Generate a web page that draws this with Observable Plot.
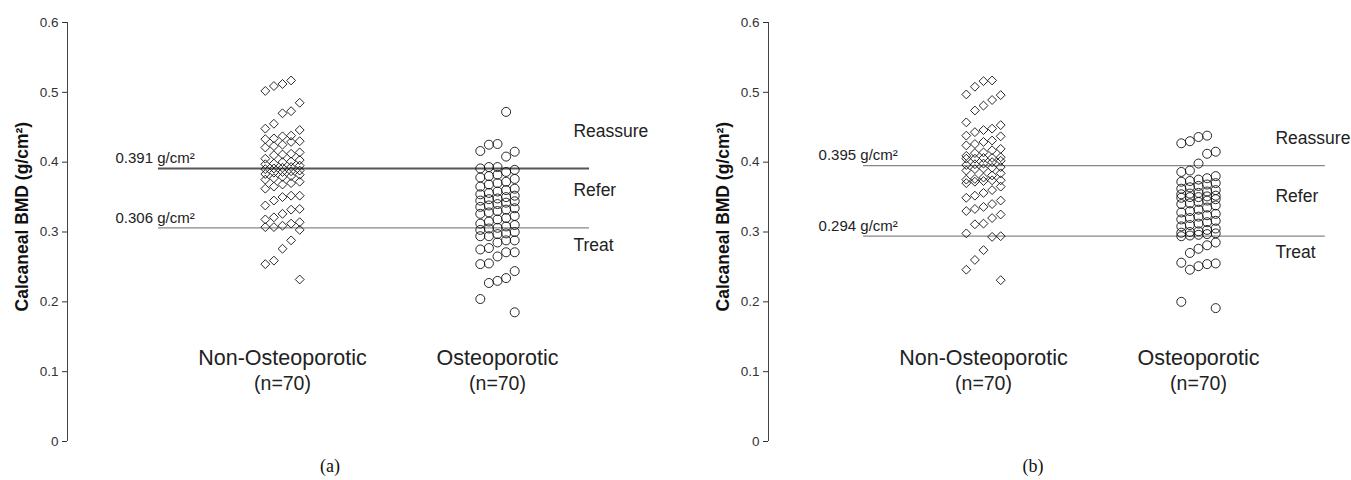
<!DOCTYPE html>
<html><head><meta charset="utf-8">
<script src="https://cdn.jsdelivr.net/npm/d3@7"></script>
<script src="https://cdn.jsdelivr.net/npm/@observablehq/plot@0.6"></script>
<style>
body{margin:0;background:#fff;font-family:"Liberation Sans",Arial,sans-serif;}
#wrap{display:flex;width:1351px;height:480px;overflow:hidden;}
.panel{position:relative;height:480px;}
.cap{position:absolute;top:456px;font-family:"Liberation Serif","Times New Roman",serif;font-size:18px;transform:translateX(-50%);color:#111;}
</style></head><body><div id="wrap"></div>
<script>
// ---- data ----
const groups = ["Non-Osteoporotic", "Osteoporotic"];
const groupCounts = ["(n=70)", "(n=70)"];
const decisions = ["Reassure", "Refer", "Treat"];
const panelLabels = ["(a)", "(b)"];
const yTicks = [0, 0.1, 0.2, 0.3, 0.4, 0.5, 0.6];
const yLabel = "Calcaneal BMD (g/cm²)";

const thresholdsA = [0.391, 0.306];
const thresholdsB = [0.395, 0.294];

const nonOstA = [0.517,0.512,0.509,0.502,
  0.485,0.473,0.470,0.455,0.448,
  0.446,0.438,0.437,0.434,0.433,
  0.430,0.429,0.425,0.423,0.421,
  0.414,0.412,0.411,0.410,0.405,
  0.403,0.401,0.400,0.398,0.397,
  0.395,0.393,0.392,0.391,0.390,
  0.388,0.387,0.386,0.385,0.383,
  0.382,0.380,0.379,0.377,0.375,
  0.372,0.370,0.368,0.365,0.362,
  0.352,0.352,0.350,0.345,0.338,
  0.333,0.332,0.326,0.321,0.318,
  0.314,0.312,0.309,0.307,0.307,
  0.303,0.288,0.276,0.259,0.254,0.232];

const ostA = [0.472,
  0.426,0.425,0.416,0.415,0.408,
  0.393,0.393,0.391,0.389,0.386,
  0.382,0.380,0.378,0.376,0.372,
  0.370,0.368,0.365,0.362,0.360,
  0.358,0.356,0.354,0.352,0.350,
  0.348,0.347,0.345,0.344,0.342,
  0.340,0.338,0.336,0.334,0.332,
  0.330,0.328,0.326,0.323,0.320,
  0.318,0.315,0.312,0.310,0.308,
  0.306,0.305,0.303,0.300,0.298,
  0.297,
  0.294,0.294,0.288,0.288,0.285,
  0.277,0.275,0.271,0.271,0.265,
  0.255,0.254,0.244,0.234,0.230,
  0.227,0.204,0.185];

const nonOstB = [0.517,0.516,0.508,0.497,
  0.496,0.489,0.481,0.474,0.457,
  0.453,0.448,0.446,0.443,0.438,
  0.437,0.431,0.429,0.426,0.424,
  0.419,0.417,0.414,0.413,0.409,
  0.407,0.406,0.406,0.405,0.405,
  0.402,0.400,0.398,0.397,0.396,
  0.393,0.392,0.391,0.390,0.388,
  0.384,0.381,0.378,0.376,0.375,
  0.374,0.374,0.373,0.372,0.370,
  0.365,0.360,0.356,0.352,0.349,
  0.345,0.340,0.336,0.333,0.330,
  0.325,0.320,0.312,0.311,0.298,
  0.294,0.293,0.274,0.260,0.246,0.231];

const ostB = [0.438,0.436,0.430,0.427,0.415,0.412,0.398,0.388,0.386,
  0.380,0.377,0.375,0.373,0.372,
  0.370,0.368,0.366,0.364,0.362,
  0.360,0.358,0.356,0.355,0.354,
  0.352,0.351,0.350,0.350,0.349,
  0.347,0.345,0.343,0.341,0.340,
  0.338,0.335,0.332,0.330,0.328,
  0.326,0.324,0.322,0.320,0.318,
  0.316,0.314,0.312,0.310,0.308,
  0.305,0.303,0.301,0.300,0.299,
  0.298,0.297,0.296,0.295,0.294,
  0.285,0.281,0.276,0.270,
  0.256,0.255,0.254,0.251,0.246,0.200,0.191];

// ---- layout ----
const panels = [
  {width: 701, series: [nonOstA, ostA], thresholds: thresholdsA, lineX1: 0.423, lineX2: 2.428,
   labelX: 0.223, decisionX: 2.353, upperStyle: {stroke: "#555", strokeWidth: 2}, caption: panelLabels[0], capX: 330,
   decY: [0.0535, 0.0115, -0.025]},
  {width: 650, series: [nonOstB, ostB], thresholds: thresholdsB, lineX1: 0.442, lineX2: 2.59,
   labelX: 0.233, decisionX: 2.358, upperStyle: {stroke: "#888", strokeWidth: 1.2}, caption: panelLabels[1], capX: 332,
   decY: [0.039, 0.0065, -0.023]}
];

const font = "Liberation Sans, Arial, sans-serif";
const wrap = document.getElementById("wrap");

panels.forEach(cfg => {
  const pts = [];
  cfg.series.forEach((vals, gi) => {
    const sorted = [...vals].sort((a, b) => b - a);
    sorted.forEach((v, j) => {
      const col = (((3 - j) % 5) + 5) % 5;
      pts.push({group: groups[gi], gi: gi + 1, col, v});
    });
  });
  const [up, lo] = cfg.thresholds;
  const decisionRows = [
    {label: decisions[0], y: up + cfg.decY[0]},
    {label: decisions[1], y: (up + lo) / 2 + cfg.decY[1]},
    {label: decisions[2], y: lo + cfg.decY[2]}
  ];
  const groupRows = groups.map((g, i) => ({g, n: groupCounts[i], x: i + 1}));

  const svg = Plot.plot({
    width: cfg.width, height: 452,
    marginLeft: 67, marginRight: cfg.width - 650, marginTop: 22, marginBottom: 11,
    x: {type: "linear", domain: [0, 583 / 215], axis: null},
    y: {type: "linear", domain: [0, 0.6], axis: null},
    style: {fontFamily: font, background: "white", color: "#222", overflow: "visible"},
    marks: [
      Plot.ruleX([0], {y1: 0, y2: 0.6, stroke: "#444", strokeWidth: 1}),
      Plot.axisY({ticks: yTicks, tickSize: 5, tickPadding: 4, tickFormat: d => d === 0 ? "0" : d.toFixed(1),
        fontSize: 13.5, label: null, color: "#333"}),
      Plot.text([yLabel], {x: 0, y: 0.322, dx: -45, rotate: -90, text: d => d, fontWeight: "bold", fontSize: 17.5, fill: "#111"}),
      Plot.ruleY([up], {x1: cfg.lineX1, x2: cfg.lineX2, ...cfg.upperStyle}),
      Plot.ruleY([lo], {x1: cfg.lineX1, x2: cfg.lineX2, stroke: "#888", strokeWidth: 1.2}),
      Plot.text(cfg.thresholds, {x: cfg.labelX, y: d => d, dy: -10, text: d => `${d.toFixed(3)} g/cm²`,
        textAnchor: "start", fontSize: 15, fill: "#222"}),
      Plot.text(decisionRows, {x: cfg.decisionX, y: "y", text: "label", textAnchor: "start", fontSize: 17.5, fill: "#222"}),
      Plot.text(groupRows, {x: "x", y: 0.12, text: "g", fontSize: 21.5, fill: "#222"}),
      Plot.text(groupRows, {x: "x", y: 0.082, text: "n", fontSize: 19.5, fill: "#222"}),
      Plot.dot(pts.filter(d => d.gi === 1), {x: d => d.gi + (d.col - 2) * 0.04, y: "v", symbol: "diamond2",
        r: 4, stroke: "#111", fill: "none", strokeWidth: 0.9}),
      Plot.dot(pts.filter(d => d.gi === 2), {x: d => d.gi + (d.col - 2) * 0.04, y: "v", symbol: "circle",
        r: 4.5, stroke: "#111", fill: "none", strokeWidth: 0.9})
    ]
  });
  const panel = document.createElement("div");
  panel.className = "panel";
  panel.style.width = cfg.width + "px";
  panel.appendChild(svg);
  const cap = document.createElement("div");
  cap.className = "cap";
  cap.style.left = cfg.capX + "px";
  cap.textContent = cfg.caption;
  panel.appendChild(cap);
  wrap.appendChild(panel);
});
</script>
</body></html>
